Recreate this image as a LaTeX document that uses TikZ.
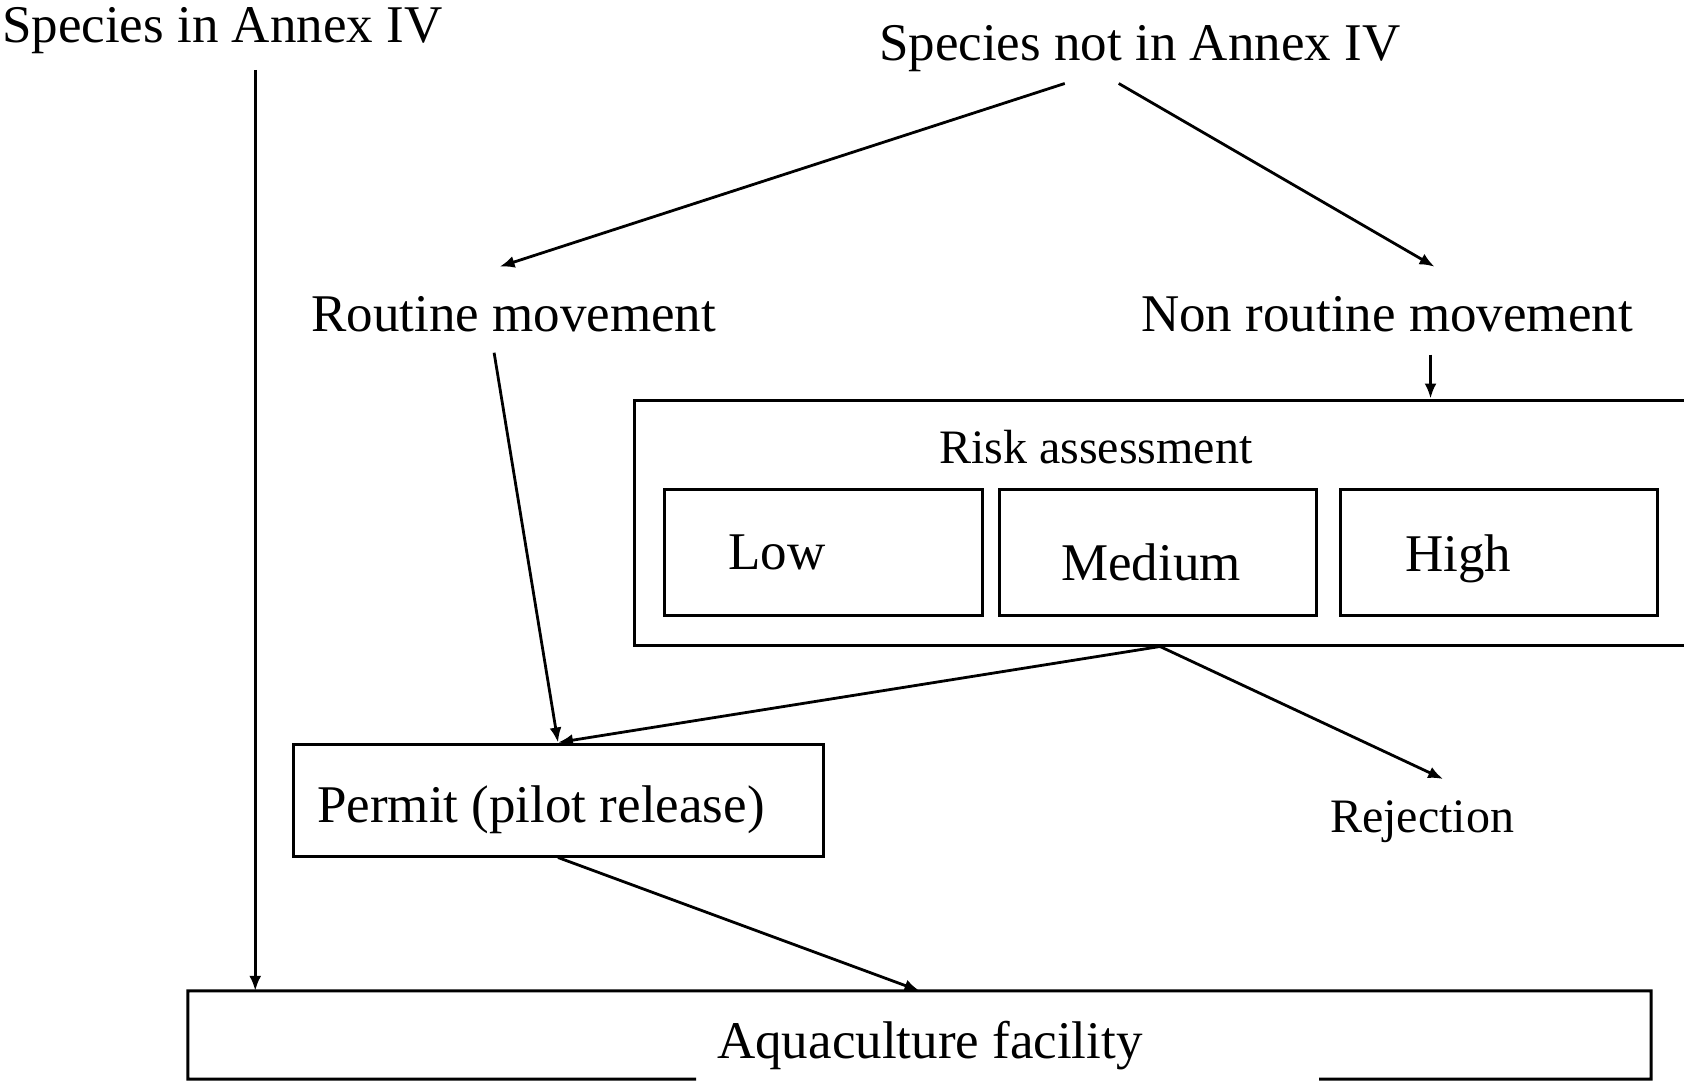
\documentclass[tikz,border=0pt]{standalone}
\usepackage{fontspec}
\setmainfont{Liberation Serif}
\usetikzlibrary{arrows.meta,positioning}

\tikzset{
  lbl/.style={font=\fontsize{53}{60}\selectfont, inner sep=0pt, anchor=base west},
  lblsmall/.style={lbl, font=\fontsize{48}{56}\selectfont},
  box/.style={draw, line width=3pt, inner sep=0pt},
  arr/.style={-{Latex[length=15pt,width=12pt]}, line width=2.8pt},
}

\begin{document}
\begin{tikzpicture}[x=1pt, y=-1pt]

  \useasboundingbox (0,0) rectangle (1684,1081); %

  % Layout the labels
  \node[lbl] (inann)  at (2,43)     {Species in Annex IV}; %
  \node[lbl] (notin)  at (879,60)   {Species not in Annex IV}; %
  \node[lbl] (routine) at (311,331) {Routine movement}; %
  \node[lbl] (nonr)   at (1141,331) {Non routine movement}; %
  \node[lblsmall] (rej) at (1330,832) {Rejection}; %

  % Boxes
  \node[box, minimum width=1052pt, minimum height=245pt] (risk) at (1160,522.5) {}; %
  \node[lblsmall] (risk-caption) at (939,463) {Risk assessment}; %
  \node[box, minimum width=318pt, minimum height=126pt] (low)  at (823,552)    {}; %
  \node[box, minimum width=317pt, minimum height=126pt] (med)  at (1157.5,552) {}; %
  \node[box, minimum width=317pt, minimum height=126pt] (high) at (1498.5,552) {}; %
  \node[lbl] (low-caption)  at (728,569)  {Low}; %
  \node[lbl] (med-caption)  at (1061,580) {Medium}; %
  \node[lbl] (high-caption) at (1405,571) {High}; %

  \node[box, minimum width=530pt, minimum height=112pt] (permit) at (558,800) {}; %
  \node[lbl] (permit-caption) at (317,822) {Permit (pilot release)}; %

  \node[minimum width=1463pt, minimum height=88pt, inner sep=0pt] (fac) at (919.5,1035) {}; %
  \draw[line width=3pt] (696,1079) -- (fac.south west) -- (fac.north west) %
    -- (fac.north east) -- (fac.south east) -- (1319,1079); %
  \node[lbl] (fac-caption) at (717,1058) {Aquaculture facility}; %

  % Connector ends
  \coordinate (inann-out) at ([xshift=33pt,yshift=-15.5pt]inann.south); %
  \coordinate (nonr-out)  at ([xshift=43.5pt,yshift=-23pt]nonr.south); %

  % Connections
  \draw[arr] (inann-out) -- (inann-out |- fac.north); %
  \draw[arr] ([xshift=-75pt,yshift=-12pt]notin.south) -- ([xshift=-14pt,yshift=29pt]routine.north); %
  \draw[arr] ([xshift=-21pt,yshift=-12pt]notin.south) -- ([xshift=47.5pt,yshift=29pt]nonr.north); %
  \draw[arr] (nonr-out) -- (nonr-out |- risk.north); %
  \draw[arr] ([xshift=-19.5pt,yshift=-21pt]routine.south) -- (permit.north); %
  \draw[arr] (risk.south) -- (permit.north); %
  \draw[arr] (risk.south) -- ([xshift=21pt,yshift=21pt]rej.north); %
  \draw[arr] (permit.south) -- (fac.north); %

\end{tikzpicture}
\end{document}
